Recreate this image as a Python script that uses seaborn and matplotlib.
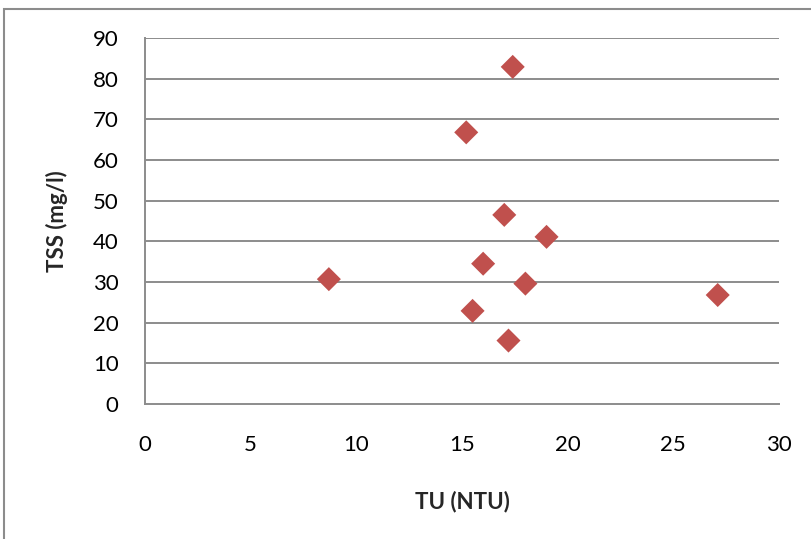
import matplotlib
matplotlib.use("Agg")
import matplotlib.pyplot as plt
from matplotlib.patches import Rectangle
import seaborn as sns
import pandas as pd

# Turbidity vs. total suspended solids samples
tu_ntu = [8.7, 15.2, 17.4, 17.0, 19.0, 16.0, 18.0, 15.5, 17.2, 27.1]
tss_mgl = [30.7, 66.8, 82.9, 46.5, 41.1, 34.5, 29.6, 22.9, 15.6, 26.8]
x_ticks = [0, 5, 10, 15, 20, 25, 30]
y_ticks = [0, 10, 20, 30, 40, 50, 60, 70, 80, 90]

df = pd.DataFrame({"TU (NTU)": tu_ntu, "TSS (mg/l)": tss_mgl})

sns.set_style("white")
plt.rcParams["font.family"] = ["Lato", "DejaVu Sans"]

fig = plt.figure(figsize=(8.12, 5.39), dpi=100)
ax = fig.add_axes([145 / 812, 1 - 404 / 539, (779 - 145) / 812, (404 - 38) / 539])

grid_col = "#8c8c8c"
for yv in y_ticks[1:]:
    ax.axhline(yv, color=grid_col, lw=1.4, zorder=1)

sns.scatterplot(data=df, x="TU (NTU)", y="TSS (mg/l)", marker="D", s=150,
                color="#c0504d", edgecolor="none", ax=ax, zorder=3)

ax.set_xlim(0, 30)
ax.set_ylim(0, 90)
ax.set_xticks(x_ticks)
ax.set_yticks(y_ticks)
ax.tick_params(axis="both", length=0, labelsize=16, colors="black")
ax.tick_params(axis="y", pad=19)
ax.tick_params(axis="x", pad=22)

for side in ["top", "right"]:
    ax.spines[side].set_visible(False)
for side in ["left", "bottom"]:
    ax.spines[side].set_color(grid_col)
    ax.spines[side].set_linewidth(1.4)

ax.set_xlabel("TU (NTU)", fontsize=16, fontweight="bold")
ax.set_ylabel("TSS (mg/l)", fontsize=16, fontweight="bold")
ax.xaxis.set_label_coords(0.5, -(502 - 404) / 366, transform=ax.transAxes)
ax.xaxis.label.set_va("center")
ax.yaxis.set_label_coords(-(145 - 57) / 634, 0.5, transform=ax.transAxes)
ax.yaxis.label.set_va("center")

# outer chart frame
fig.patches.append(Rectangle((4 / 812, -0.1), 1.2, 1 - 9 / 539 + 0.1,
                             transform=fig.transFigure, fill=False,
                             edgecolor="#8c8c8c", lw=1.5))

fig.savefig("out.png", dpi=100)
